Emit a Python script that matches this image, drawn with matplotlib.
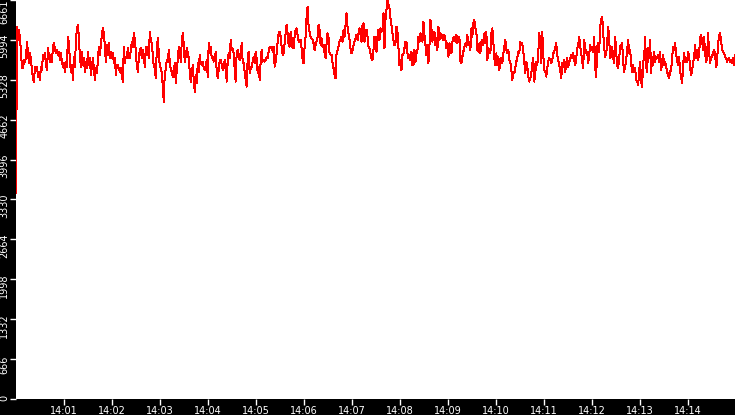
import matplotlib
matplotlib.use("Agg")
import matplotlib.pyplot as plt
import matplotlib.dates as mdates
import matplotlib.transforms as mtransforms
import pandas as pd
import numpy as np

seg1 = [3440, 6216, 5994, 6161, 6022, 5799, 5521, 5521, 5660, 5632, 5688, 5966, 5771, 5605, 5771, 5660,
        5493, 5354, 5299, 5549, 5493, 5549, 5382, 5466, 5327, 5549, 5493, 5744, 5688, 5771, 5577, 5493,
        5855, 5716, 5632, 5744, 5632, 5883, 5938, 5827, 5771, 5827, 5744, 5799, 5660, 5771, 5632, 5549,
        5605, 5466, 5632, 5549, 6049, 5938, 5632, 5466, 5577, 5327, 5716, 5549, 5994, 6188, 6244, 6022,
        5716, 5549, 5799, 5577, 5688, 5466, 5632, 5521, 5799, 5577, 5688, 5410, 5549, 5688, 5521, 5327,
        5521, 5438, 5660, 5883, 5744, 5910, 6077, 6188, 6105, 5883, 5632, 5910, 5744, 5938, 5688, 5799,
        5688, 5771, 5605, 5688, 5410, 5577, 5577, 5521, 5466, 5521, 5382, 5299, 5883, 5605, 5716, 5688,
        5855, 5688, 5688, 5827, 5966, 5883, 6105, 5994, 5799]
seg2 = [5549, 5466, 5688, 5827, 5855, 5688, 5827, 5716, 5549, 5883, 5744, 5883, 5688, 6133, 5994, 5938,
        5744, 5549, 5521, 5354, 5855, 6022, 5771, 5549, 5521, 5438, 5215, 4965, 5466, 5493, 5660, 5632,
        5827, 5632, 5493, 5466, 5382, 5466, 5605, 5271, 5493, 5660, 5883, 5855, 5632, 5966, 6105, 5910,
        5632, 5716, 5855, 5771, 5688, 5466, 5299, 5438, 5577, 5327, 5132, 5410, 5271, 5605, 5466, 5744,
        5605, 5577, 5632, 5521, 5493, 5549, 5660, 5382, 5938, 5771, 5883, 5688, 5716, 5632, 5660, 5799,
        5466, 5354, 5493, 5660, 5660, 5577, 5493, 5521, 5660, 5577, 5299, 5632, 5771, 5688, 5994, 5827,
        5855, 5771, 5493, 5299, 5799, 5827, 5744, 5660, 5771, 5938, 5632, 5605, 5466, 5327, 5215, 5688,
        5799, 5438, 5521, 5549, 5632, 5716, 5605, 5799]
seg3 = [5688, 5438, 5549, 5327, 5632, 5827, 5632, 5660, 5632, 5660, 5716, 5688, 5799, 5883, 5855, 5883,
        5799, 5883, 5549, 5632, 5771, 5966, 6105, 6133, 6049, 5883, 5744, 5771, 5938, 6105, 6244, 6105,
        5910, 5883, 6133, 6022, 5855, 5855, 6049, 6161, 6188, 6077, 5966, 5966, 5994, 5855, 5660, 5605,
        5883, 6049, 6383, 6550, 6216, 6133, 6049, 6022, 5994, 5938, 5827, 5910, 5966, 6049, 6244, 6161,
        5910, 6022, 5883, 5910, 5771, 5688, 5938, 6105, 6022, 5771, 5744, 5744, 5605, 5521, 5410, 5354,
        5771, 5827, 5883, 5966, 5994, 6049, 5966, 6161, 6049, 6244, 6439, 6216, 6105, 5994, 5855, 5771,
        5827, 5910, 5966, 6022, 6077, 5994, 6105, 6188, 6077, 5966, 6244, 6272, 5966, 6105, 6161, 6049,
        5883, 5855, 5771, 5688, 5660, 5827, 6049, 5910]
seg4 = [5799, 6049, 6161, 5994, 6188, 6133, 6188, 6439, 5855, 6327, 6494, 6661, 6578, 6522, 6355, 6244,
        6105, 5994, 5910, 5938, 6216, 6133, 5855, 5577, 5660, 5493, 5744, 5771, 5855, 5966, 5966, 5771,
        5688, 5744, 5660, 5799, 5577, 5577, 5827, 5632, 5771, 5827, 6049, 5966, 6105, 6077, 5966, 6300,
        6077, 5910, 5744, 5910, 5605, 5883, 6327, 6188, 5966, 6105, 6133, 5910, 6022, 5827, 6216, 5994,
        6105, 6022, 6077, 5994, 6077, 5994, 5855, 5938, 5716, 5938, 5827, 5771, 5966, 6022, 6049, 5966,
        6077, 5938, 6049, 6049, 5632, 5605, 5716, 5799, 5883, 5938, 5883, 6077, 5910, 5966, 5827, 6188,
        6049, 6272, 6327, 6188, 6133, 5827, 5799, 5938, 5771, 5966, 5994, 5910, 6105, 5938, 6133, 5660,
        5855, 5799, 5771, 6105, 6188, 5966, 5688, 5577]
seg5 = [5771, 5577, 5716, 5493, 5632, 5688, 5605, 5771, 5883, 5994, 5827, 5771, 5827, 5660, 5632, 5493,
        5327, 5466, 5438, 5521, 5632, 5688, 5799, 5771, 5966, 5910, 5938, 5799, 5632, 5438, 5632, 5549,
        5382, 5299, 5354, 5438, 5605, 5688, 5299, 5438, 5632, 5577, 5771, 6105, 5938, 5605, 6133, 5744,
        5493, 5466, 5382, 5521, 5632, 5688, 5660, 5605, 5660, 5771, 5799, 5855, 5938, 5744, 5660, 5577,
        5493, 5354, 5605, 5549, 5660, 5466, 5605, 5688, 5549, 5605, 5688, 5744, 5688, 5771, 5660, 5577,
        5688, 5855, 5910, 6049, 5883, 5771, 5632, 5521, 5994, 5855, 5771, 5799, 5605, 5744, 5910, 5827,
        5883, 5799, 6049, 5521, 5382, 5883, 5938, 5799, 6216, 6327, 6383, 6105, 5855, 5716, 5771, 5938,
        6216, 5994, 5688, 5716, 5883, 5688, 5605, 6049]
seg6 = [5799, 5577, 5521, 5688, 5883, 5910, 5938, 5632, 5466, 5549, 5660, 5827, 5994, 5771, 5827, 5605,
        5466, 5577, 5466, 5521, 5327, 5299, 5243, 5466, 5632, 5299, 5215, 5632, 5688, 6049, 5549, 5466,
        5855, 5688, 5994, 5438, 5716, 5577, 5799, 5632, 5716, 5688, 5744, 5632, 5799, 5493, 5577, 5744,
        5577, 5632, 5549, 5466, 5410, 5354, 5466, 5493, 5688, 5883, 5827, 5938, 5771, 5660, 5577, 5716,
        5466, 5382, 5271, 5549, 5771, 5632, 5660, 5632, 5799, 5744, 5549, 5410, 5466, 5632, 5688, 5910,
        5688, 5827, 5660, 5744, 6022, 6077, 5994, 5827, 6049, 5799, 5632, 5688, 6105, 5827, 5605, 5688,
        5716, 5771, 5827, 5771, 5549, 5605, 5938, 6049, 6105, 5994, 5827, 5799, 5771, 5716, 5688, 5632,
        5660, 5688, 5632, 5660, 5605, 5688, 5577, 5744]

values = seg1 + seg2 + seg3 + seg4 + seg5 + seg6
y_max = 6661
y_tick_labels = ["0", "666", "1332", "1998", "2664", "3330", "3996", "4662", "5328", "5994", "6661"]
start_time = "2024-01-01 14:00:00"
end_time = "2024-01-01 14:14:59"
first_tick = "2024-01-01 14:01:00"
last_tick = "2024-01-01 14:14:00"

times = pd.date_range(start=start_time, end=end_time, periods=len(values))

W, H, DPI = 735, 415, 100
fig = plt.figure(figsize=(W / DPI, H / DPI), dpi=DPI, facecolor="black")
ax = fig.add_axes([16 / W, 16 / H, 719 / W, 399 / H])
ax.set_facecolor("white")
for s in ax.spines.values():
    s.set_visible(False)

ax.plot(times, values, color="#ff0000", lw=0.72, antialiased=False)

ax.set_xlim(times[0], times[-1])
ax.set_ylim(0, y_max)

xt = pd.date_range(first_tick, last_tick, freq="1min")
ax.set_xticks(xt)
ax.xaxis.set_major_formatter(mdates.DateFormatter("%H:%M"))
ax.tick_params(axis="x", colors="white", direction="out", length=4, width=1, pad=1.2,
               labelsize=7, labelcolor="white")

yticks = np.linspace(0, y_max, len(y_tick_labels))
ax.set_yticks(yticks)
ax.set_yticklabels(y_tick_labels, rotation=90, va="center")
ax.tick_params(axis="y", colors="white", direction="out", length=4, width=1, pad=0.8,
               labelsize=7, labelcolor="white")

for lbl in ax.get_yticklabels():
    t = lbl.get_text()
    if t == y_tick_labels[-1]:
        lbl.set_va("top")
    elif t == y_tick_labels[0]:
        lbl.set_transform(lbl.get_transform() + mtransforms.ScaledTranslation(0, 1 / DPI, fig.dpi_scale_trans))
    else:
        lbl.set_transform(lbl.get_transform() + mtransforms.ScaledTranslation(0, -6 / DPI, fig.dpi_scale_trans))

fig.savefig("out.png", dpi=DPI, facecolor="black")
